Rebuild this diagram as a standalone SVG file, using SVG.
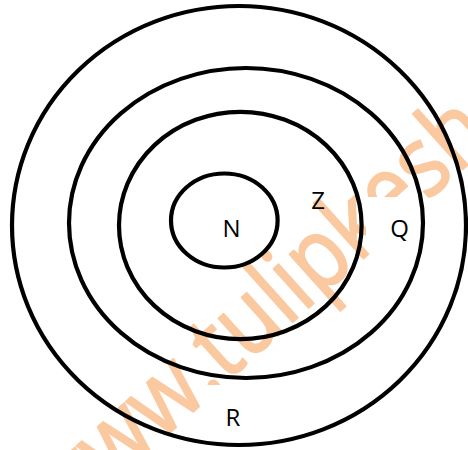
<svg xmlns="http://www.w3.org/2000/svg" width="468" height="450" viewBox="0 0 468 450">
<style>
.ring{fill:none;stroke:#000;stroke-width:4.2}
.lbl{font-family:"Open Sans","DejaVu Sans",sans-serif;font-size:24px;fill:#000;text-anchor:middle}
.wm{font-family:"Open Sans","DejaVu Sans",sans-serif;font-size:98px;fill:#FAC9A0;stroke:#FAC9A0;stroke-width:2;stroke-linejoin:round}
</style>
<rect width="468" height="450" fill="#fff"/>
<g id="watermark">
<text class="wm" transform="translate(62,530) rotate(-42) scale(0.87,1)">www.tulipkesha</text>
<rect x="366" y="197" width="60" height="50" fill="#fff"/>
<rect x="205" y="385" width="58" height="50" fill="#fff"/>
</g>
<g id="connectors"></g>
<g id="R"><ellipse class="ring" cx="239" cy="225.5" rx="227" ry="219.5"/><text class="lbl" x="233" y="426">R</text></g>
<g id="Q"><ellipse class="ring" cx="246" cy="223" rx="177" ry="155"/><text class="lbl" x="399.5" y="237">Q</text></g>
<g id="Z"><ellipse class="ring" cx="240.3" cy="225.5" rx="121.3" ry="113.7"/><text class="lbl" x="318" y="209">Z</text></g>
<g id="N"><ellipse class="ring" cx="224.3" cy="220.5" rx="53.3" ry="47"/><text class="lbl" x="231.5" y="237">N</text></g>
</svg>
